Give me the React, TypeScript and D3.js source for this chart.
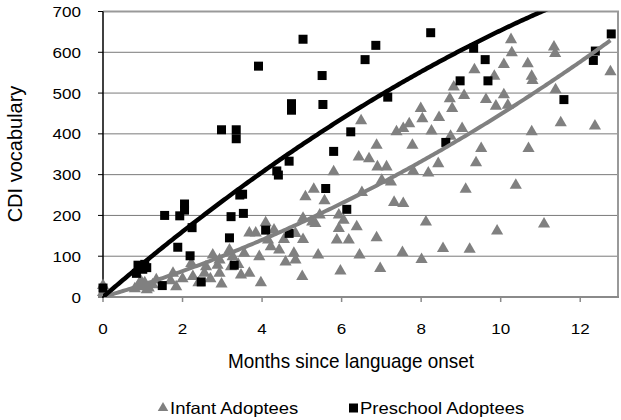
import React, { useEffect, useRef } from 'react'
import * as d3 from 'd3'

// months since onset, CDI vocabulary
const infantX = [
  0, 0, 0.8, 0.9, 0.95, 1.0, 1.05, 1.1, 1.15, 1.25, 1.34,
  1.7, 1.76, 1.84, 2.0, 2.22, 2.26, 2.4, 2.55, 2.59, 2.7, 2.76, 2.88, 2.93, 2.93, 2.98,
  3.18, 3.22, 3.26, 3.4, 3.47, 3.55, 3.68, 3.68, 3.84, 3.93, 3.97,
  4.09, 4.15, 4.22, 4.3, 4.43, 4.55, 4.59, 4.8, 4.84, 4.84,
  5.01, 5.03, 5.03, 5.09, 5.26, 5.3, 5.34, 5.41, 5.45, 5.57, 5.8, 5.88, 5.93, 5.93, 5.97,
  6.05, 6.18, 6.38, 6.43, 6.45, 6.49, 6.51, 6.69, 6.88, 6.88, 6.9, 6.97, 7.01, 7.13,
  7.24, 7.32, 7.38, 7.53, 7.55, 7.55, 7.7, 7.78, 7.8, 7.99,
  8.01, 8.03, 8.12, 8.18, 8.26, 8.43, 8.45, 8.55, 8.72, 8.74, 8.78, 8.82,
  9.03, 9.08, 9.12, 9.22, 9.34, 9.38, 9.51, 9.63, 9.84, 9.88, 9.91,
  10.08, 10.08, 10.18, 10.26, 10.28, 10.38, 10.68, 10.7, 10.78, 10.78, 10.8,
  11.09, 11.34, 11.37, 11.38, 11.51, 12.37, 12.76,
]
const infantY = [
  28, 11, 20, 30, 40, 25, 35, 18, 22, 30, 42,
  40, 58, 25, 45, 82, 50, 35, 58, 74, 45, 103, 78, 91, 58, 32,
  115, 74, 99, 80, 54, 107, 58, 157, 157, 99, 35,
  182, 140, 123, 164, 115, 141, 86, 107, 156, 91,
  50, 193, 141, 246, 184, 264, 180, 103, 201, 236, 307, 140, 168, 201, 64,
  188, 140, 172, 343, 103, 432, 256, 339, 372, 145, 319, 70, 286, 319,
  282, 232, 405, 109, 413, 229, 425, 372, 309, 462,
  92, 437, 184, 304, 407, 327, 440, 119, 486, 394, 462, 515,
  413, 494, 264, 117, 557, 329, 364, 484, 541, 468, 162,
  570, 496, 470, 631, 599, 274, 572, 364, 541, 405, 531,
  179, 613, 597, 508, 427, 419, 552,
]

const preschoolX = [
  0, 0.84, 0.88, 1.0, 1.05, 1.1, 1.49, 1.55, 1.88, 1.93, 2.05, 2.05, 2.19, 2.24, 2.47,
  2.98, 3.18, 3.22, 3.3, 3.35, 3.35, 3.44, 3.51, 3.53, 3.91, 4.09, 4.37, 4.41,
  4.68, 4.68, 4.74, 4.74, 5.03, 5.51, 5.53, 5.6, 5.8, 6.13, 6.23, 6.59, 6.86, 7.16,
  8.24, 8.62, 8.98, 9.32, 9.61, 9.68, 11.59, 12.33, 12.38, 12.78,
]
const preschoolY = [
  22, 58, 78, 68, 80, 72, 28, 200, 122, 199, 228, 213, 101, 170, 37,
  410, 145, 197, 78, 410, 388, 250, 252, 205, 566, 164, 309, 299,
  333, 156, 474, 458, 632, 543, 472, 266, 357, 215, 405, 582, 617, 490,
  648, 379, 530, 610, 582, 530, 484, 580, 603, 645,
]

// polynomial trend lines: y = b1*x + b2*x^2
const infantTrend = [28.5, 1.63]
const preschoolTrend = [83.9, -1.854]

const xTicks = [0, 2, 4, 6, 8, 10, 12]
const yTicks = [0, 100, 200, 300, 400, 500, 600, 700]

const seriesNames = ['Infant Adoptees', 'Preschool Adoptees']

const FONT = 'Liberation Sans, Arial, sans-serif'

export default function App() {
  const svgRef = useRef<SVGSVGElement>(null)

  useEffect(() => {
    const width = 621
    const height = 420
    const left = 103
    const right = 618
    const top = 11.5
    const bottom = 297

    const svg = d3.select(svgRef.current).attr('width', width).attr('height', height)
    svg.selectAll('*').remove()

    const x = d3.scaleLinear().domain([0, 12.95]).range([left, right])
    const y = d3.scaleLinear().domain([0, 700]).range([bottom, top])

    svg.append('defs').append('clipPath').attr('id', 'plot-clip')
      .append('rect')
      .attr('x', left).attr('y', top)
      .attr('width', right - left).attr('height', bottom - top)

    // grid
    svg.append('g')
      .selectAll('line')
      .data(yTicks.slice(1, -1))
      .enter()
      .append('line')
      .attr('x1', left).attr('x2', right)
      .attr('y1', (d) => y(d)).attr('y2', (d) => y(d))
      .attr('stroke', '#7a7a7a')
      .attr('stroke-width', 1)

    // frame top / right
    svg.append('line')
      .attr('x1', left).attr('x2', right + 1)
      .attr('y1', top).attr('y2', top)
      .attr('stroke', '#999').attr('stroke-width', 2)
    svg.append('line')
      .attr('x1', right).attr('x2', right)
      .attr('y1', top).attr('y2', bottom)
      .attr('stroke', '#999').attr('stroke-width', 2)

    // x axis
    const xAxis = svg.append('g')
    xAxis.append('line')
      .attr('x1', left).attr('x2', right + 1)
      .attr('y1', bottom).attr('y2', bottom)
      .attr('stroke', '#8a8a8a').attr('stroke-width', 2)
    xAxis.selectAll('.tick')
      .data(xTicks)
      .enter()
      .append('line')
      .attr('x1', (d) => x(d)).attr('x2', (d) => x(d))
      .attr('y1', bottom).attr('y2', bottom + 5)
      .attr('stroke', '#8a8a8a').attr('stroke-width', 1.5)
    xAxis.selectAll('text')
      .data(xTicks)
      .enter()
      .append('text')
      .attr('transform', (d) => `translate(${x(d)}, ${333.5}) scale(1.1, 1)`)
      .attr('text-anchor', 'middle')
      .attr('font-family', FONT)
      .attr('font-size', 15.5)
      .attr('fill', '#000')
      .text((d) => d)

    // y axis
    const yAxis = svg.append('g')
    yAxis.selectAll('.tick')
      .data(yTicks)
      .enter()
      .append('line')
      .attr('x1', left - 5).attr('x2', left)
      .attr('y1', (d) => y(d)).attr('y2', (d) => y(d))
      .attr('stroke', '#000').attr('stroke-width', 1)
    yAxis.append('line')
      .attr('x1', left).attr('x2', left)
      .attr('y1', top).attr('y2', bottom + 1)
      .attr('stroke', '#000').attr('stroke-width', 1.5)
    yAxis.selectAll('text')
      .data(yTicks)
      .enter()
      .append('text')
      .attr('transform', (d) => `translate(${81}, ${y(d) + 5.5}) scale(1.1, 1)`)
      .attr('text-anchor', 'end')
      .attr('font-family', FONT)
      .attr('font-size', 15.5)
      .attr('fill', '#000')
      .text((d) => d)

    // titles
    svg.append('text')
      .attr('transform', `translate(351, 368) scale(0.97, 1)`)
      .attr('text-anchor', 'middle')
      .attr('font-family', FONT)
      .attr('font-size', 19.5)
      .text('Months since language onset')
    svg.append('text')
      .attr('transform', `translate(22, 154) rotate(-90)`)
      .attr('text-anchor', 'middle')
      .attr('font-family', FONT)
      .attr('font-size', 20)
      .text('CDI vocabulary')

    const tri = d3.symbol().type(d3.symbolTriangle).size(64)

    const plot = svg.append('g')

    // infant points
    plot.append('g')
      .selectAll('path')
      .data(infantX.map((d, i) => [d, infantY[i]]))
      .enter()
      .append('path')
      .attr('d', tri)
      .attr('transform', (d) => `translate(${x(d[0])}, ${y(d[1])})`)
      .attr('fill', '#808080')

    // preschool points
    plot.append('g')
      .selectAll('rect')
      .data(preschoolX.map((d, i) => [d, preschoolY[i]]))
      .enter()
      .append('rect')
      .attr('x', (d) => x(d[0]) - 4.5)
      .attr('y', (d) => y(d[1]) - 4.5)
      .attr('width', 9)
      .attr('height', 9)
      .attr('fill', '#000')

    // trend lines
    const trendPath = (coef: number[], xmax: number) => {
      const pts = d3.range(0, xmax, 0.05).concat([xmax])
      return d3.line<number>()
        .x((d) => x(d))
        .y((d) => y(coef[0] * d + coef[1] * d * d))(pts)
    }

    const lines = plot.append('g').attr('clip-path', 'url(#plot-clip)')
    lines.append('path')
      .attr('d', trendPath(infantTrend, d3.max(infantX) as number))
      .attr('fill', 'none')
      .attr('stroke', '#808080')
      .attr('stroke-width', 4)
    lines.append('path')
      .attr('d', trendPath(preschoolTrend, d3.max(preschoolX) as number))
      .attr('fill', 'none')
      .attr('stroke', '#000')
      .attr('stroke-width', 4.5)

    // legend
    const legend = svg.append('g')
    legend.append('path')
      .attr('d', d3.symbol().type(d3.symbolTriangle).size(48))
      .attr('transform', 'translate(163, 408)')
      .attr('fill', '#808080')
    legend.append('text')
      .attr('transform', 'translate(170, 414) scale(1.12, 1)')
      .attr('font-family', FONT)
      .attr('font-size', 16.5)
      .text(seriesNames[0])
    legend.append('rect')
      .attr('x', 349).attr('y', 403.5)
      .attr('width', 9).attr('height', 9)
      .attr('fill', '#000')
    legend.append('text')
      .attr('transform', 'translate(360, 414) scale(1.12, 1)')
      .attr('font-family', FONT)
      .attr('font-size', 16.5)
      .text(seriesNames[1])
  }, [])

  return (
    <svg
      ref={svgRef}
      style={{ position: 'absolute', left: 0, top: 0, background: '#fff' }}
    />
  )
}
